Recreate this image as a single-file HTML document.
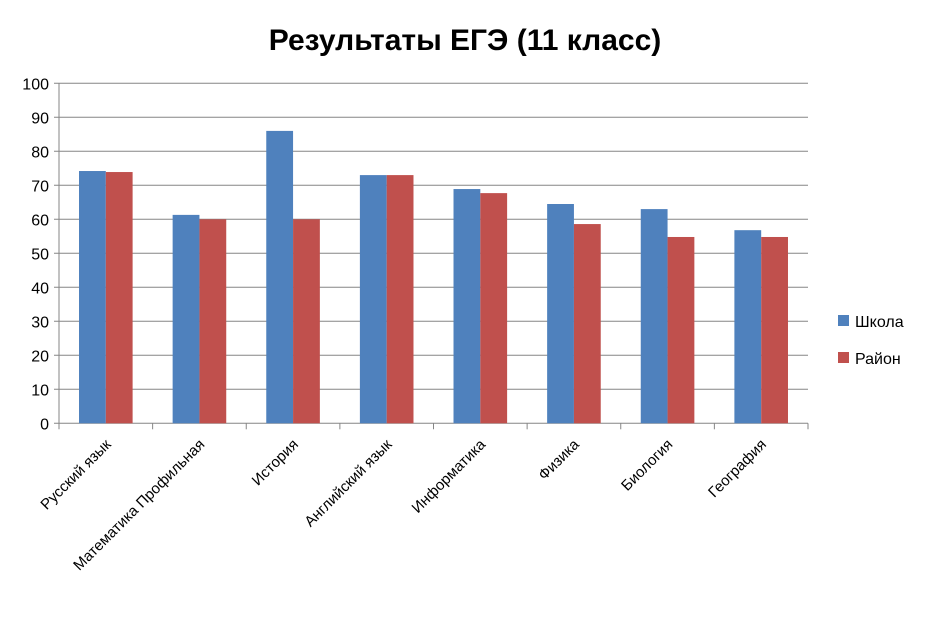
<!DOCTYPE html>
<html><head><meta charset="utf-8"><style>
body{margin:0;background:#fff;}
svg text{font-family:"Liberation Sans",sans-serif;fill:#000;}
</style></head><body>
<svg id="c" width="931" height="618" xmlns="http://www.w3.org/2000/svg">
<text x="465" y="50" text-anchor="middle" font-size="30" font-weight="bold">Результаты ЕГЭ (11 класс)</text>
<g id="grid"></g><g id="bars"></g><g id="labels"></g>
<g>
<rect x="838" y="315" width="11" height="11" fill="#4F81BD"/>
<text x="855" y="327" font-size="16">Школа</text>
<rect x="838" y="352" width="11" height="11" fill="#C0504D"/>
<text x="855" y="364" font-size="16">Район</text>
</g>
</svg>
<script>
const categories=["Русский язык","Математика Профильная","История","Английский язык","Информатика","Физика","Биология","География"];
const school=[74.2,61.3,86,73,68.9,64.5,63,56.8];
const district=[73.9,60,60,73,67.7,58.6,54.8,54.8];
const ticks=[0,10,20,30,40,50,60,70,80,90,100];
const NS="http://www.w3.org/2000/svg";
const x0=59,x1=808,y0=423.3,y100=83.3;
const yS=v=>y0-(y0-y100)*v/100;
const cw=(x1-x0)/categories.length;
const xC=i=>x0+cw*i;
function mk(t,a,p){const e=document.createElementNS(NS,t);for(const k in a)e.setAttribute(k,a[k]);p.appendChild(e);return e;}
const g=document.getElementById('grid'),b=document.getElementById('bars'),l=document.getElementById('labels');
ticks.forEach(v=>{
 const ln=mk('line',{x1:x0-5,x2:x1,y1:yS(v),y2:yS(v),stroke:'#868686','stroke-width':1},g);
 
 
 const t=mk('text',{x:x0-10,y:yS(v)+6,'text-anchor':'end','font-size':16},l);
 t.textContent=v;
 
 
});
const ax=mk('line',{x1:x0,x2:x0,y1:y100,y2:y0+5,stroke:'#868686'},g);


for(let i=0;i<=categories.length;i++){
 const tk=mk('line',{x1:xC(i),x2:xC(i),y1:y0,y2:y0+6,stroke:'#868686'},g);
 
 
}
const bw=26.8;
categories.forEach((c,i)=>{
 const cx=xC(i)+cw/2;
 const r1=mk('rect',{x:cx-bw,y:yS(school[i]),width:bw,height:y0-yS(school[i]),fill:'#4F81BD'},b);
 
 
 const r2=mk('rect',{x:cx,y:yS(district[i]),width:bw,height:y0-yS(district[i]),fill:'#C0504D'},b);
 
 
 const t=mk('text',{x:0,y:0,'text-anchor':'end','font-size':15,transform:`translate(${cx+6},${y0+22}) rotate(-45)`},l);
 t.textContent=c;
 
 
});
</script>
</body></html>
